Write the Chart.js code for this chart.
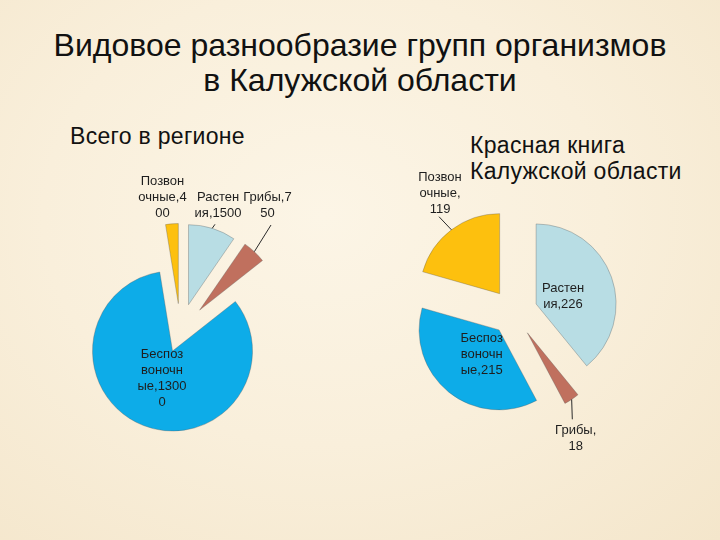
<!DOCTYPE html>
<html><head><meta charset="utf-8">
<script src="https://cdn.jsdelivr.net/npm/chart.js@4"></script>
<style>
html,body{margin:0;padding:0;}
body{width:720px;height:540px;position:relative;overflow:hidden;font-family:"Liberation Sans",Arial,sans-serif;
background: radial-gradient(ellipse at 45% 40%, #fcf5e6 0%, #f9efdb 50%, #f4e6cb 100%);}
#title{position:absolute;left:0;top:27.5px;width:720px;text-align:center;font-size:32px;line-height:35px;color:#111;}
.sub{position:absolute;font-size:23px;letter-spacing:0.3px;color:#111;white-space:nowrap;}
canvas{position:absolute;}
</style></head>
<body>
<div id="title">Видовое разнообразие групп организмов<br>в Калужской области</div>
<div class="sub" style="left:70px;top:124px;line-height:25px">Всего в регионе</div>
<div class="sub" style="left:470px;top:132px;line-height:26px">Красная книга<br>Калужской области</div>
<canvas id="c1" width="361" height="361" style="left:0;top:150px"></canvas>
<canvas id="c2" width="307" height="324" style="left:360px;top:150px"></canvas>
<script>
// ---- data ----
const categories = ['Растения', 'Грибы', 'Беспозвоночные', 'Позвоночные'];
const regionValues = [1500, 750, 13000, 400];
const redBookValues = [226, 18, 215, 119];
const regionLabelLines = [['Растен', 'ия,1500'], ['Грибы,7', '50'], ['Беспоз', 'воночн', 'ые,1300', '0'], ['Позвон', 'очные,4', '00']];
const redBookLabelLines = [['Растен', 'ия,226'], ['Грибы,', '18'], ['Беспоз', 'воночн', 'ые,215'], ['Позвон', 'очные,', '119']];

// ---- styles ----
const sliceColors = ['#B8DDE4', '#C0705E', '#0DACE8', '#FDC00E'];
const regionShift = [27, 28, 22, 27];     // explode distance in px
const redBookShift = [24, 25, 23, 23];
// label placement relative to pie centre: [dx, dy], optional leader end
const regionPlace = [
  {dx: 37.5, dy: -125.5, leader: [34.5, -106.2]},
  {dx: 87, dy: -125.5, leader: [90.5, -105.5]},
  {dx: -18.5, dy: 48},
  {dx: -18, dy: -133}
];
const redBookPlace = [
  {dx: 49.5, dy: -16},
  {dx: 62.2, dy: 126, leader: [58.8, 107.3]},
  {dx: -31.8, dy: 42},
  {dx: -73.5, dy: -119, leader: [-74.5, -95.3]}
];

function arcGeom(arc) {
  const p = arc.getProps(['x', 'y', 'startAngle', 'endAngle', 'outerRadius'], true);
  p.mid = (p.startAngle + p.endAngle) / 2;
  return p;
}

// draws each library arc translated outward along its bisector (exploded pie)
const explode = {
  id: 'explode',
  beforeDatasetDraw(chart, args, opts) {
    const ctx = chart.ctx;
    args.meta.data.forEach((arc, i) => {
      const g = arcGeom(arc);
      const s = opts.shift[i];
      ctx.save();
      ctx.translate(Math.cos(g.mid) * s, Math.sin(g.mid) * s);
      arc.draw(ctx, chart.chartArea);
      ctx.restore();
    });
    return false;
  }
};

const pieLabels = {
  id: 'pieLabels',
  afterDatasetsDraw(chart, args, opts) {
    const ctx = chart.ctx;
    const meta = chart.getDatasetMeta(0);
    const shifts = chart.options.plugins.explode.shift;
    ctx.save();
    ctx.font = '13px "Liberation Sans", Arial, sans-serif';
    ctx.textAlign = 'center';
    ctx.textBaseline = 'middle';
    meta.data.forEach((arc, i) => {
      const p = opts.place[i];
      const lines = opts.lines[i];
      const g = arcGeom(arc);
      const s = shifts[i];
      const ax = g.x + Math.cos(g.mid) * s, ay = g.y + Math.sin(g.mid) * s;
      if (p.leader) {
        ctx.beginPath();
        ctx.moveTo(ax + Math.cos(g.mid) * g.outerRadius, ay + Math.sin(g.mid) * g.outerRadius);
        ctx.lineTo(g.x + p.leader[0], g.y + p.leader[1]);
        ctx.strokeStyle = '#2a2a2a';
        ctx.lineWidth = 1;
        ctx.stroke();
      }
      ctx.fillStyle = '#1e1e1e';
      const lh = 16;
      const top = g.y + p.dy - (lines.length - 1) * lh / 2;
      lines.forEach((t, k) => ctx.fillText(t, g.x + p.dx, top + k * lh));
    });
    ctx.restore();
  }
};

function makePie(id, values, shifts, lines, place) {
  return new Chart(document.getElementById(id), {
    type: 'pie',
    data: {
      labels: categories,
      datasets: [{
        data: values,
        backgroundColor: sliceColors,
        borderColor: 'rgba(90,90,90,0.45)',
        borderWidth: 0.75,
        radius: 80,
        hoverOffset: 0
      }]
    },
    options: {
      responsive: false,
      animation: false,
      events: [],
      layout: {padding: 0},
      plugins: {
        legend: {display: false},
        title: {display: false},
        tooltip: {enabled: false},
        explode: {shift: shifts},
        pieLabels: {lines: lines, place: place}
      }
    },
    plugins: [explode, pieLabels]
  });
}

makePie('c1', regionValues, regionShift, regionLabelLines, regionPlace);
makePie('c2', redBookValues, redBookShift, redBookLabelLines, redBookPlace);
</script>
</body></html>
